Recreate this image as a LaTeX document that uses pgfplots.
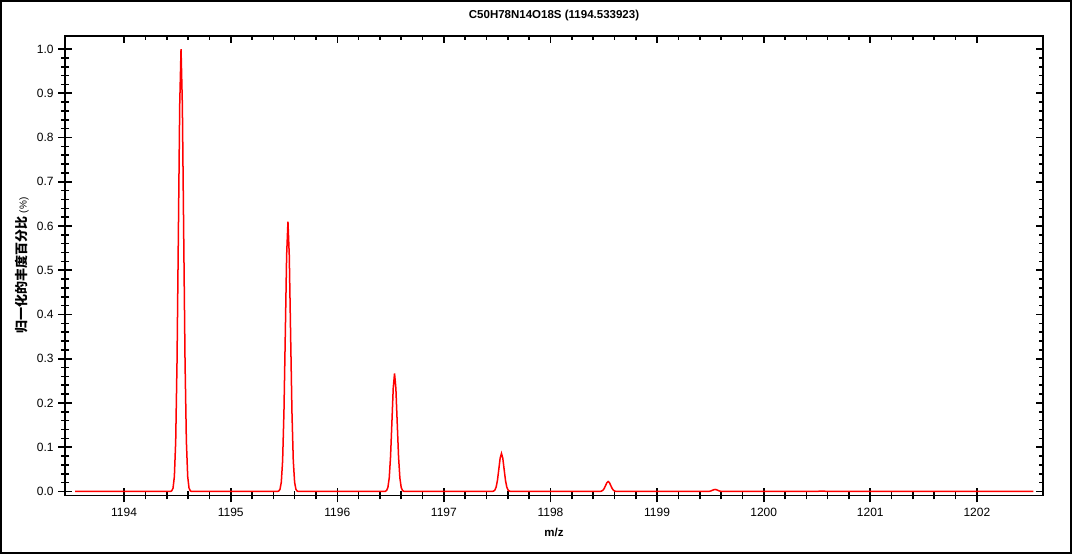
\documentclass[border=0pt]{standalone}
\usepackage{pgfplots}
\pgfplotsset{compat=1.18}
\usepackage{fontspec}
\setmainfont{Liberation Sans}
\newfontfamily\cjk{Noto Sans CJK SC}

\pgfplotsset{
  specbox/.style={
    scale only axis,
    width=977pt, height=459pt,
    xmin=1193.446, xmax=1202.62,
    ymin=-0.00905, ymax=1.0294,
    xtick={1194,1195,1196,1197,1198,1199,1200,1201,1202},
    ytick={0,0.1,0.2,0.3,0.4,0.5,0.6,0.7,0.8,0.9,1.0},
    minor x tick num=4,
    minor y tick num=4,
    axis line style={line width=1.6pt},
    every tick/.style={black, line width=1.6pt},
    every minor tick/.style={black, line width=1.6pt},
  }
}

\begin{document}
\begin{tikzpicture}
\begin{axis}[
    specbox,
    xtick pos=lower, ytick pos=left,
    tick align=center,
    major tick length=14pt, minor tick length=8pt,
    /pgf/number format/assume math mode=true,
    xticklabel style={/pgf/number format/1000 sep={}, font=\fontsize{12}{14}\selectfont, yshift=-2pt},
    yticklabel style={/pgf/number format/.cd, fixed, fixed zerofill, precision=1,
                      /tikz/.cd, font=\fontsize{12}{14}\selectfont, xshift=-1pt},
    title={\bfseries C50H78N14O18S (1194.533923)},
    title style={font=\fontsize{11.5}{13}\selectfont, at={(axis description cs:0.5,1)}, yshift=14pt, anchor=center},
    xlabel={\bfseries m/z},
    xlabel style={font=\fontsize{11.5}{13}\selectfont, at={(axis description cs:0.5,0)}, yshift=-37pt, anchor=center},
    ylabel={{\cjk\bfseries 归一化的丰度百分比} {\fontsize{10}{12}\selectfont(\%)}},
    ylabel style={font=\fontsize{13}{15}\selectfont, at={(axis description cs:0,0.5)}, rotate=0, yshift=43pt, anchor=center},
]
\addplot[red, line width=1.5pt, mark=none] coordinates {
    (1193.54,0) (1194.434,0)
    (1194.4465,0.0013) (1194.459,0.0076) (1194.4715,0.0337) (1194.484,0.114)
    (1194.4965,0.295) (1194.509,0.581) (1194.5215,0.873) (1194.534,1.0)
    (1194.5465,0.873) (1194.559,0.581) (1194.5715,0.295) (1194.584,0.114)
    (1194.5965,0.0337) (1194.609,0.0076) (1194.6215,0.0013) (1194.634,0)
    (1195.437,0)
    (1195.4495,0.0008) (1195.462,0.0046) (1195.4745,0.0206) (1195.487,0.0695)
    (1195.4995,0.180) (1195.512,0.354) (1195.5245,0.533) (1195.537,0.61)
    (1195.5495,0.533) (1195.562,0.354) (1195.5745,0.180) (1195.587,0.0695)
    (1195.5995,0.0206) (1195.612,0.0046) (1195.6245,0.0008) (1195.637,0)
    (1196.437,0)
    (1196.4495,0.0003) (1196.462,0.0020) (1196.4745,0.0090) (1196.487,0.0304)
    (1196.4995,0.0788) (1196.512,0.155) (1196.5245,0.233) (1196.537,0.267)
    (1196.5495,0.233) (1196.562,0.155) (1196.5745,0.0788) (1196.587,0.0304)
    (1196.5995,0.0090) (1196.612,0.0020) (1196.6245,0.0003) (1196.637,0)
    (1197.440,0)
    (1197.4525,0.0001) (1197.465,0.0007) (1197.4775,0.0029) (1197.49,0.0098)
    (1197.5025,0.0254) (1197.515,0.0500) (1197.5275,0.0751) (1197.54,0.086)
    (1197.5525,0.0751) (1197.565,0.0500) (1197.5775,0.0254) (1197.59,0.0098)
    (1197.6025,0.0029) (1197.615,0.0007) (1197.6275,0.0001) (1197.640,0)
    (1198.466,0)
    (1198.4785,0.0008) (1198.491,0.0026) (1198.5035,0.0066) (1198.516,0.0131)
    (1198.5285,0.0196) (1198.541,0.0225) (1198.5535,0.0196) (1198.566,0.0131)
    (1198.5785,0.0066) (1198.591,0.0026) (1198.6035,0.0008) (1198.616,0)
    (1199.469,0)
    (1199.4815,0.0002) (1199.494,0.0005) (1199.5065,0.0013) (1199.519,0.0026)
    (1199.5315,0.0039) (1199.544,0.0045) (1199.5565,0.0039) (1199.569,0.0026)
    (1199.5815,0.0013) (1199.594,0.0005) (1199.6065,0.0002) (1199.619,0)
    (1200.4965,0)
    (1200.509,0.0003) (1200.5215,0.0006) (1200.534,0.0009) (1200.546,0.0010)
    (1200.5585,0.0009) (1200.571,0.0006) (1200.5835,0.0003) (1200.596,0)
    (1202.53,0)
};
\end{axis}
\begin{axis}[
    specbox,
    xtick pos=upper, ytick pos=right,
    tick align=inside,
    major tick length=7pt, minor tick length=4pt,
    xticklabels={}, yticklabels={},
]
\end{axis}
\draw[line width=2pt] ([shift={(-64pt,-57pt)}]current axis.south west)
    rectangle ([shift={(28pt,35pt)}]current axis.north east);
\end{tikzpicture}
\end{document}
